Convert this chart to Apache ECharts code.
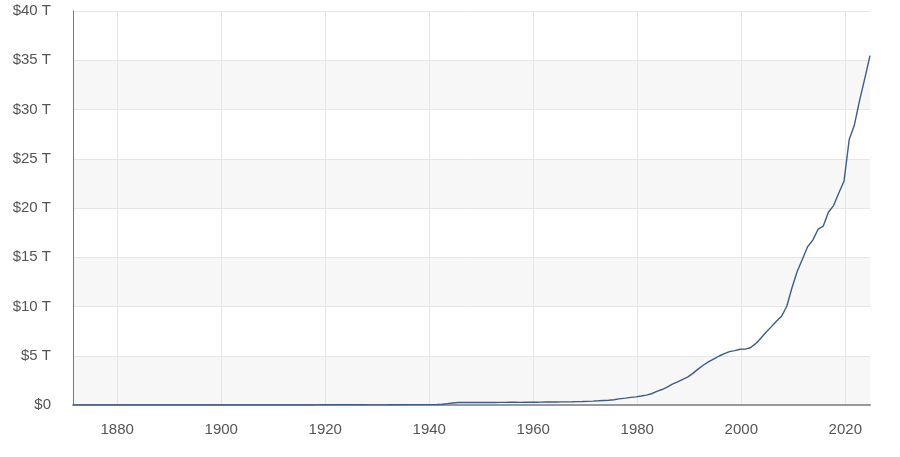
<!DOCTYPE html>
<html>
<head>
<meta charset="utf-8">
<script src="https://cdn.jsdelivr.net/npm/echarts@6/dist/echarts.min.js"></script>
<style>
html,body{margin:0;padding:0;background:#fff;}
#chart{width:900px;height:457px;}
</style>
</head>
<body>
<div id="chart"></div>
<script>
// Fiscal years (FY ended June 30 through 1976, Sept 30 from 1977)
const years = [
1871,1872,1873,1874,1875,1876,1877,1878,1879,1880,1881,1882,1883,1884,1885,1886,1887,1888,1889,1890,
1891,1892,1893,1894,1895,1896,1897,1898,1899,1900,1901,1902,1903,1904,1905,1906,1907,1908,1909,1910,
1911,1912,1913,1914,1915,1916,1917,1918,1919,1920,1921,1922,1923,1924,1925,1926,1927,1928,1929,1930,
1931,1932,1933,1934,1935,1936,1937,1938,1939,1940,1941,1942,1943,1944,1945,1946,1947,1948,1949,1950,
1951,1952,1953,1954,1955,1956,1957,1958,1959,1960,1961,1962,1963,1964,1965,1966,1967,1968,1969,1970,
1971,1972,1973,1974,1975,1976,1977,1978,1979,1980,1981,1982,1983,1984,1985,1986,1987,1988,1989,1990,
1991,1992,1993,1994,1995,1996,1997,1998,1999,2000,2001,2002,2003,2004,2005,2006,2007,2008,2009,2010,
2011,2012,2013,2014,2015,2016,2017,2018,2019,2020,2021,2022,2023,2024
];
// Total debt, trillions of dollars
const debtTrillions = [
0.00232,0.00221,0.00215,0.00216,0.00216,0.00213,0.00211,0.00216,0.00230,0.00209,0.00202,0.00186,0.00172,0.00163,0.00158,0.00156,0.00147,0.00138,0.00125,0.00112,
0.00101,0.00097,0.00096,0.00102,0.00110,0.00122,0.00123,0.00123,0.00144,0.00126,0.00122,0.00118,0.00116,0.00114,0.00113,0.00114,0.00115,0.00118,0.00115,0.00115,
0.00115,0.00119,0.00119,0.00119,0.00119,0.00123,0.00298,0.01224,0.02548,0.02430,0.02398,0.02296,0.02235,0.02125,0.02052,0.01964,0.01851,0.01760,0.01693,0.01619,
0.01680,0.01949,0.02254,0.02705,0.02870,0.03378,0.03642,0.03716,0.04044,0.04297,0.04896,0.07242,0.13670,0.20100,0.25868,0.26942,0.25829,0.25229,0.25277,0.25736,
0.25522,0.25911,0.26607,0.27126,0.27437,0.27275,0.27053,0.27634,0.28471,0.28633,0.28897,0.29820,0.30586,0.31171,0.31727,0.31991,0.32622,0.34758,0.35372,0.37092,
0.39813,0.42726,0.45814,0.47506,0.53319,0.62043,0.69884,0.77154,0.82652,0.90770,0.99786,1.14203,1.37721,1.57227,1.82310,2.12530,2.35028,2.60234,2.85743,3.23331,
3.66530,4.06462,4.41149,4.69275,4.97398,5.22481,5.41315,5.52619,5.65627,5.67418,5.80746,6.22824,6.78323,7.37905,7.93271,8.50697,9.00765,10.02472,11.90983,13.56162,
14.79034,16.06624,16.73818,17.82407,18.15062,19.57344,20.24490,21.51606,22.71940,26.94539,28.42892,30.92891,33.16733,35.46474
];
const xTickYears = [1880,1900,1920,1940,1960,1980,2000,2020];
const yTicks = [0,5,10,15,20,25,30,35,40];

// fiscal-year end as a fractional year: June 30 (~.5) until 1976, Sept 30 (~.75) after
const seriesData = years.map((y, i) => [y + (y <= 1976 ? 0.5 : 0.75), debtTrillions[i]]);

const chart = echarts.init(document.getElementById('chart'), null, {renderer: 'canvas'});
const font = '"Liberation Sans", Arial, Helvetica, sans-serif';
chart.setOption({
  animation: false,
  backgroundColor: '#ffffff',
  grid: {left: 73, right: 30, top: 11, bottom: 52, containLabel: false},
  xAxis: {
    type: 'value',
    min: 'dataMin',
    max: 'dataMax',
    axisLine: {show: true, onZero: false, lineStyle: {color: '#999999', width: 2}},
    axisTick: {show: false, customValues: xTickYears},
    axisLabel: {
      customValues: xTickYears,
      formatter: v => String(Math.round(v)),
      color: '#555555', fontSize: 15, fontFamily: font, margin: 17
    },
    splitLine: {show: true, lineStyle: {color: '#e6e6e6', width: 1}}
  },
  yAxis: {
    type: 'value',
    min: 0, max: 40, interval: 5,
    axisLine: {show: true, lineStyle: {color: '#777777', width: 1}},
    axisTick: {show: false},
    axisLabel: {
      formatter: v => v === 0 ? '$0' : '$' + v + ' T',
      color: '#555555', fontSize: 15, fontFamily: font, margin: 22,
      padding: [4, 0, 0, 0]
    },
    splitLine: {show: true, lineStyle: {color: '#e6e6e6', width: 1}},
    splitArea: {show: true, areaStyle: {color: ['#f7f7f7', '#ffffff']}}
  },
  series: [{
    type: 'line',
    data: seriesData,
    showSymbol: false,
    symbol: 'none',
    lineStyle: {color: '#3d5d88', width: 1.4},
    z: 3
  }]
});
</script>
</body>
</html>
